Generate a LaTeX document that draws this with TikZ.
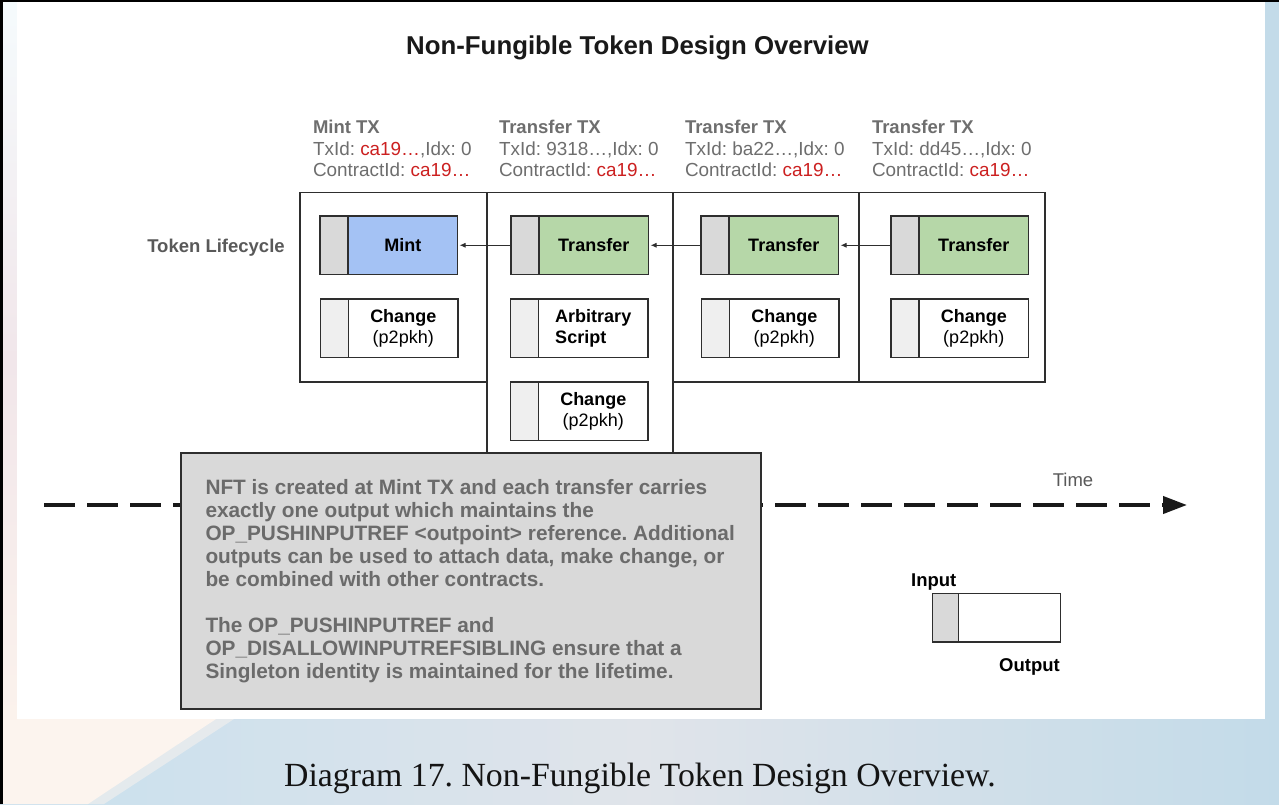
\documentclass[tikz,border=0pt]{standalone}
\usepackage{fontspec}
\setmainfont{Liberation Serif}
\setsansfont{Liberation Sans}
\usetikzlibrary{arrows.meta}

\definecolor{mintblue}{HTML}{A4C2F4}
\definecolor{xfergreen}{HTML}{B6D7A8}
\definecolor{ingray}{HTML}{D9D9D9}
\definecolor{inlight}{HTML}{EFEFEF}
\definecolor{notefill}{HTML}{D9D9D9}
\definecolor{notetext}{HTML}{6B6B6B}
\definecolor{hdrgray}{HTML}{6E6E6E}
\definecolor{idred}{HTML}{CC2020}
\definecolor{lblgray}{HTML}{595959}
\definecolor{edge}{HTML}{2E2E2E}
\definecolor{bgL}{HTML}{C8E0EE}
\definecolor{bgM}{HTML}{E0E4EA}
\definecolor{bgR}{HTML}{C3DBE9}
\definecolor{peach}{HTML}{FCF4EE}
\definecolor{stripTop}{HTML}{F5FBFD}
\definecolor{stripMid}{HTML}{F1E6EA}
\definecolor{stripBot}{HTML}{FBF2EC}

\newcommand{\fsz}[2]{\fontsize{#1}{#2}\selectfont}
% one UTXO: input cell + output cell
\newcommand{\utxo}[6]{%
  \node[inpart, fill=#4] (#1-in) at (#2,#3) {};
  \node[outpart, fill=#5] (#1) at ({#2+28},#3) {#6};
}

\begin{document}
\frenchspacing
\begin{tikzpicture}[x=1pt, y=-1pt,
  every node/.style={inner sep=0pt, outer sep=0pt},
  txbox/.style={draw=edge, line width=1.2pt, anchor=north west, minimum width=186pt},
  inpart/.style={draw=edge, line width=1.4pt, anchor=north west,
    minimum width=28pt, minimum height=58.5pt},
  outpart/.style={draw=edge, line width=1.4pt, anchor=north west,
    minimum width=109.5pt, minimum height=58.5pt,
    font=\sffamily\bfseries\fsz{18}{20.5}, align=center, text=black},
  hdr/.style={anchor=base west, font=\sffamily\fsz{18.9}{21.5}, text=hdrgray},
  hdrbold/.style={hdr, font=\sffamily\bfseries\fsz{18.5}{21.5}},
  flow/.style={draw=edge, line width=1pt, shorten >=2pt,
    -{Latex[length=6pt,width=5pt]}},
  timeline/.style={draw=black!90, line width=4pt, dash pattern=on 31pt off 12pt,
    -{Triangle[length=24pt,width=17pt]}},
  notebox/.style={draw=edge, line width=1.4pt, fill=notefill, anchor=north west},
  keylabel/.style={anchor=base, font=\sffamily\bfseries\fsz{18.5}{21.5}, text=black}
]
\useasboundingbox (0,0) rectangle (1279,804);

% backdrop behind the white sheet
\fill[bgR] (0,0) rectangle (1279,804);
\shade[left color=bgL, right color=bgR, middle color=bgM] (0,719) rectangle (1279,804);
\fill[peach, opacity=0.5] (0,719) -- (234,719) -- (104,804) -- (0,804) -- cycle;
\fill[peach] (0,719) -- (216,719) -- (88,804) -- (0,804) -- cycle;
\shade[top color=stripTop, bottom color=stripBot, middle color=stripMid] (0,0) rectangle (17,719);
\fill[white] (17,2) rectangle (1265,719);
\fill[black] (0,0) rectangle (1279,2);
\fill[black] (0,0) rectangle (3,804);

% title
\node[anchor=base, font=\sffamily\bfseries\fsz{25.8}{30}, text=black!90] (title)
  at (637.5,54) {Non-Fungible Token Design Overview};

% transaction headers
\node[hdrbold] (h1a) at (313,133) {Mint TX};
\node[hdr] (h1b) at (313,155) {TxId: \textcolor{idred}{ca19…},Idx: 0};
\node[hdr] (h1c) at (313,176) {ContractId: \textcolor{idred}{ca19…}};
\node[hdrbold] (h2a) at (499,133) {Transfer TX};
\node[hdr] (h2b) at (499,155) {TxId: 9318…,Idx: 0};
\node[hdr] (h2c) at (499,176) {ContractId: \textcolor{idred}{ca19…}};
\node[hdrbold] (h3a) at (685,133) {Transfer TX};
\node[hdr] (h3b) at (685,155) {TxId: ba22…,Idx: 0};
\node[hdr] (h3c) at (685,176) {ContractId: \textcolor{idred}{ca19…}};
\node[hdrbold] (h4a) at (872,133) {Transfer TX};
\node[hdr] (h4b) at (872,155) {TxId: dd45…,Idx: 0};
\node[hdr] (h4c) at (872,176) {ContractId: \textcolor{idred}{ca19…}};

% transaction frames
\node[txbox, minimum width=187pt, minimum height=189.5pt] (txmint) at (300,192.5) {};
\node[txbox, minimum height=261pt] (txa) at (487,192.5) {};
\node[txbox, minimum height=189.5pt] (txb) at (673,192.5) {};
\node[txbox, minimum height=189.5pt] (txc) at (859,192.5) {};

% token outputs
\utxo{mint}{320}{216}{ingray}{mintblue}{Mint}
\utxo{xa}{511}{216}{ingray}{xfergreen}{Transfer}
\utxo{xb}{701}{216}{ingray}{xfergreen}{Transfer}
\utxo{xc}{891}{216}{ingray}{xfergreen}{Transfer}

% other outputs
\utxo{chmint}{320.5}{299}{inlight}{white}{Change\\{\mdseries(p2pkh)}}
\node[inpart, fill=inlight] (arb-in) at (510.5,299) {};
\node[outpart, fill=white, align=left] (arb) at (538.5,299) {Arbitrary\\Script};
\utxo{chb}{701.5}{299}{inlight}{white}{Change\\{\mdseries(p2pkh)}}
\utxo{chc}{891}{299}{inlight}{white}{Change\\{\mdseries(p2pkh)}}
\utxo{cha}{510.5}{382}{inlight}{white}{Change\\{\mdseries(p2pkh)}}

% spend links
\draw[flow] (xa-in.west) -- (mint.east);
\draw[flow] (xb-in.west) -- (xa.east);
\draw[flow] (xc-in.west) -- (xb.east);

\node[anchor=base, font=\sffamily\bfseries\fsz{18.5}{21.5}, text=lblgray] (life)
  at (216,252) {Token Lifecycle};

% time axis
\coordinate (t0) at (44,505);
\coordinate (t1) at (1187,505);
\draw[timeline] (t0) -- (t1);
\node[anchor=base, font=\sffamily\fsz{18.5}{21.5}, text=lblgray] (time) at (1073,486) {Time};

% explanatory note
\node[notebox, minimum width=580pt, minimum height=256pt] (note) at (181,453) {};
\node[anchor=base west, font=\sffamily\bfseries\fsz{20.8}{23}, text=notetext] (notetxt)
  at (205.5,494) {\vtop{%
    \hbox{NFT is created at Mint TX and each transfer carries}
    \hbox{exactly one output which maintains the}
    \hbox{OP\_PUSHINPUTREF <outpoint> reference. Additional}
    \hbox{outputs can be used to attach data, make change, or}
    \hbox{be combined with other contracts.}
    \hbox{}
    \hbox{The OP\_PUSHINPUTREF and}
    \hbox{OP\_DISALLOWINPUTREFSIBLING ensure that a}
    \hbox{Singleton identity is maintained for the lifetime.}}};

% legend
\node[inpart, fill=ingray, minimum width=26pt, minimum height=48.5pt] (key-in) at (932.5,593.5) {};
\node[inpart, fill=white, minimum width=102pt, minimum height=48.5pt] (key-out) at (958.5,593.5) {};
\node[keylabel] (key-inlbl) at (933.7,586) {Input};
\node[keylabel] (key-outlbl) at (1029.5,671) {Output};

% caption
\node[anchor=base, font=\rmfamily\fsz{33.8}{40}, text=black!92] (caption)
  at (640,786) {Diagram 17. Non-Fungible Token Design Overview.};
\end{tikzpicture}
\end{document}
